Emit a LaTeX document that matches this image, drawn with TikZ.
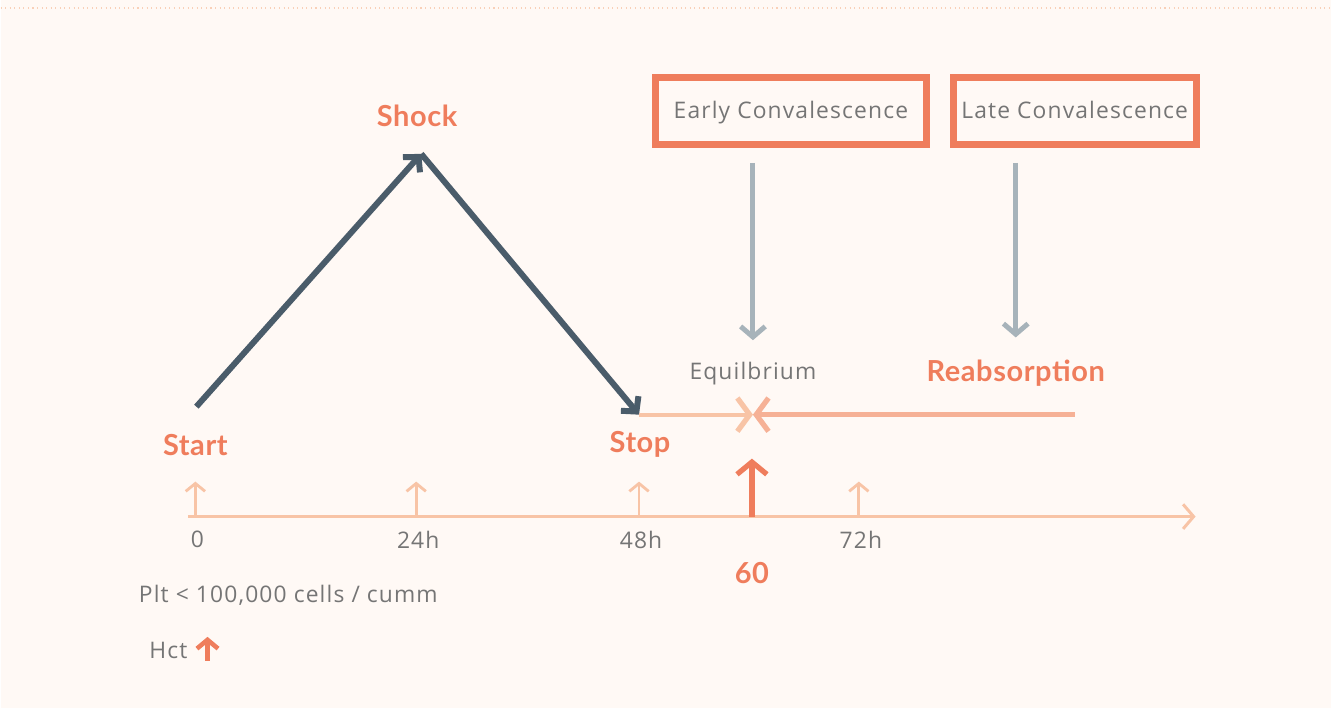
\documentclass[tikz,border=0pt]{standalone}
\usepackage{fontspec}
\setmainfont{Open Sans}[LetterSpace=5]
\newfontfamily\headfont{Lato}[LetterSpace=2]
\usetikzlibrary{arrows.meta}

\definecolor{bgcream}{HTML}{FFF9F5}
\definecolor{salmon}{HTML}{EF7D5C}
\definecolor{peach}{HTML}{F8C4A6}
\definecolor{peachdark}{HTML}{F6B196}
\definecolor{slate}{HTML}{4A5C6A}
\definecolor{steel}{HTML}{A7B3BA}
\definecolor{txtgray}{HTML}{757575}

\begin{document}
\begin{tikzpicture}[x=0.02cm, y=-0.02cm,
		label/.style={font=\headfont\bfseries\fontsize{16.5}{19}\selectfont, text=salmon, inner sep=1pt},
		plain/.style={font=\fontsize{13}{15}\selectfont, text=txtgray, inner sep=1pt},
		phase/.style={draw=salmon, line width=4pt, minimum height=1.34cm, inner sep=0pt, text depth=0.25ex},
		course/.style={draw=slate, line width=3.4pt, -{Straight Barb[length=6pt, width=13pt, line width=3.4pt]}},
		drop/.style={draw=steel, line width=2.8pt, -{Straight Barb[length=6pt, width=14pt, line width=2.8pt]}},
		tick/.style={draw=peach, line width=1.6pt, -{Straight Barb[length=4.5pt, width=11pt, line width=1.6pt]}},
		meet/.style={line width=3pt, -{Straight Barb[length=7pt, width=19pt, line width=3pt]}}
	]
	% background and page edge
	\fill[bgcream] (0,0) rectangle (1332,709);
	\draw[peach!80, dotted, line width=0.6pt] (0,8) -- (1332,8);

	% phases
	\node[phase, minimum width=5.44cm] (early) at (791,111) {\fontsize{13}{15}\selectfont\color{txtgray}Early Convalescence};
	\node[phase, minimum width=4.86cm] (late) at (1075,111) {\fontsize{13}{15}\selectfont\color{txtgray}Late Convalescence};

	% labels
	\node[label] (start) at (195,445) {Start};
	\node[label] (shock) at (417,116) {Shock};
	\node[label] (stop) at (640,445) {Stop};
	\node[label] (reab) at (1016,373) {Reabsorption};
	\node[plain] (eq) at (753,374) {Equilbrium};

	% time axis
	\coordinate (t0) at (188,517);
	\coordinate (tend) at (1196,517);
	\draw[peach, line width=1.7pt, -{Straight Barb[length=6pt, width=14pt, line width=1.7pt]}] (t0) -- (tend);
	\foreach \x/\txt/\nm in {195/0/h0, 416/24h/h24, 639/48h/h48, 859/72h/h72} {
		\draw[tick] (\x,517) -- (\x,482);
		\node[plain] (\nm) at (\x+2,540) {\txt};
	}
	\draw[salmon, line width=3pt, -{Straight Barb[length=7pt, width=17pt, line width=3pt]}] (752,517) -- (752,459);
	\node[label] (sixty) at (752,573) {60};

	% course of the illness
	\coordinate (a) at (196,407);
	\coordinate (peak) at (421,154);
	\coordinate (b) at (639,415);
	\coordinate (eqp) at (753,415);
	\coordinate (r) at (1075,415);
	\draw[course] (a) -- (peak);
	\draw[course] (peak) -- (b);
	\draw[meet, draw=peach, line width=2.3pt] (b) -- (eqp);
	\draw[meet, draw=peachdark] (r) -- (eqp);

	% phase arrows
	\draw[drop] ([yshift=-0.3cm]early.south -| eq.north) -- ([yshift=0.4cm]eq.north);
	\draw[drop] ([yshift=-0.3cm]late.south -| reab.north) -- ([yshift=0.4cm]reab.north);

	% lab values
	\node[plain] (plt) at (288,596) {Plt < 100,000 cells / cumm};
	\node[plain] (hct) at (168,651) {Hct};
	\draw[salmon, line width=2.6pt, -{Straight Barb[length=5pt, width=12pt, line width=2.6pt]}] ([xshift=0.36cm]hct.south east) -- ++(0,-24);
\end{tikzpicture}
\end{document}
